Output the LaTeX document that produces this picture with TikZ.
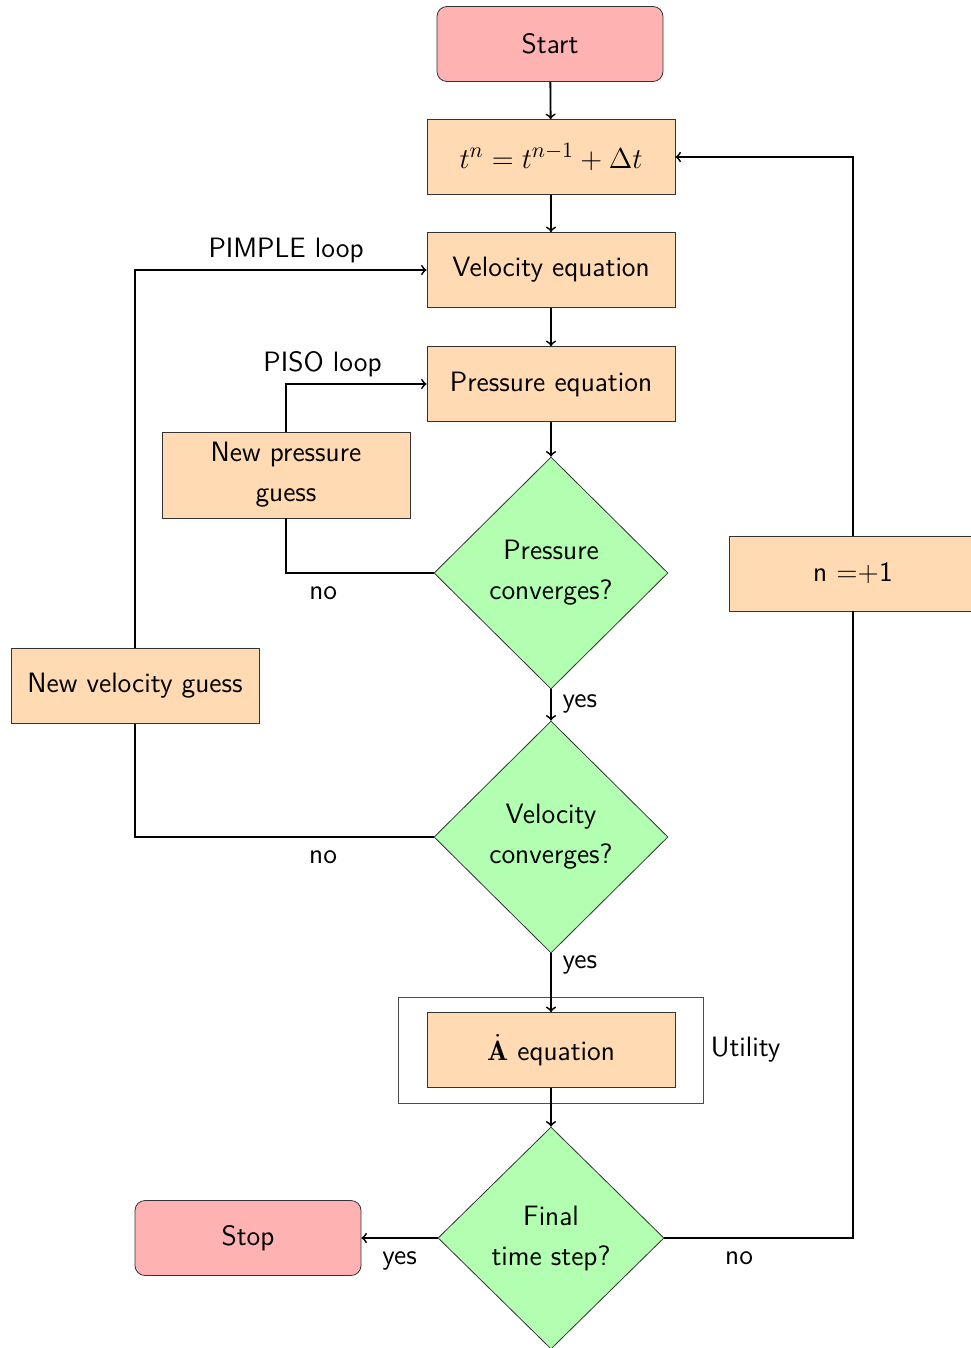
\documentclass[tikz,border=0pt]{standalone}
\usepackage{fontspec}
\usepackage{amsmath,amssymb}
\usetikzlibrary{shapes,arrows,positioning,calc,fit}

\definecolor{procfill}{RGB}{255,218,178}
\definecolor{termfill}{RGB}{255,178,178}
\definecolor{decfill}{RGB}{178,255,178}

\tikzset{
  flowfont/.style={font=\sffamily\fontsize{14}{20}\selectfont},
  procbox/.style={flowfont, rectangle, draw=black!80, fill=procfill, minimum width=124pt, minimum height=37.5pt, align=center},
  termbox/.style={procbox, fill=termfill, minimum width=113pt, rounded corners=5pt},
  decision/.style={flowfont, diamond, draw=black!80, fill=decfill, aspect=1, inner sep=0pt, minimum width=117pt, minimum height=116pt, align=center},
  flowline/.style={line width=0.9pt, ->},
  joinline/.style={line width=0.9pt},
  lbl/.style={flowfont},
  lblbelow/.style={flowfont, below, yshift=-3pt},
  lblright/.style={flowfont, right, xshift=2pt}
}

\begin{document}
\begin{tikzpicture}[x=0.5pt, y=-0.5pt]
  \useasboundingbox (0,0) rectangle (970,1348);

  % main column
  \node[termbox] (start) at (550,44) {Start};
  \node[procbox] (tstep) at (551,157) {\fontsize{15}{18}\selectfont$t^n = t^{n-1} + \Delta t$};
  \node[procbox] (veleq) at (551,270) {Velocity equation};
  \node[procbox] (preseq) at (551,384) {Pressure equation};
  \node[decision] (presconv) at (551,573) {Pressure\\converges?};
  \node[decision] (velconv) at (551,837) {Velocity\\converges?};
  \node[procbox] (adoteq) at (551,1050) {$\dot{\mathbf{A}}$\ equation};
  \node[decision, minimum width=113pt, minimum height=111pt] (finalstep) at (551,1238) {Final\\time step?};

  % side boxes
  \node[procbox, minimum height=43pt] (newpres) at (286,475) {New pressure\\guess};
  \node[procbox] (newvel) at (135,686) {New velocity guess};
  \node[procbox] (nplus) at (853,573.5) {n =+1};
  \node[termbox] (stop) at (248,1238) {Stop};

  % utility frame
  \node[draw=black!70, fit=(adoteq), inner xsep=14pt, inner ysep=7.5pt] (utilframe) {};
  \node[lbl, right] (utillbl) at (utilframe.east) {Utility};

  % straight connectors
  \draw[flowline] (start) -- (tstep);
  \draw[flowline] (tstep) -- (veleq);
  \draw[flowline] (veleq) -- (preseq);
  \draw[flowline] (preseq) -- (presconv.north);
  \draw[flowline] (presconv.south) -- node[lblright, pos=0.45] {yes} (velconv.north);
  \draw[flowline] (velconv.south) -- node[lblright, pos=0.2] {yes} (adoteq);
  \draw[flowline] (adoteq) -- (finalstep.north);
  \draw[flowline] (finalstep.west) -- node[lblbelow] {yes} (stop);

  % PISO loop
  \draw[joinline] (presconv.west) -| node[lblbelow, pos=0.374] {no} (newpres.south);
  \draw[flowline] (newpres.north) |- node[lbl, above, pos=0.63] {PISO loop} (preseq.west);

  % PIMPLE loop
  \draw[joinline] (velconv.west) -| node[lblbelow, pos=0.185] {no} (newvel.south);
  \draw[flowline] (newvel.north) |- node[lbl, above, pos=0.759] {PIMPLE loop} (veleq.west);

  % time loop
  \draw[joinline] (finalstep.east) -| node[lblbelow, pos=0.198] {no} (nplus.south);
  \draw[flowline] (nplus.north) |- (tstep.east);
\end{tikzpicture}
\end{document}
